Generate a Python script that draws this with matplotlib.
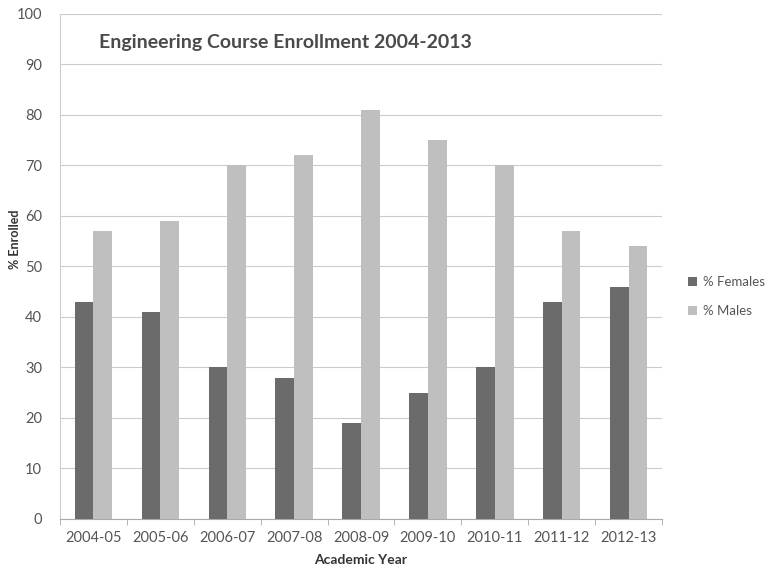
import numpy as np
import matplotlib.pyplot as plt

years = ["2004-05", "2005-06", "2006-07", "2007-08", "2008-09",
         "2009-10", "2010-11", "2011-12", "2012-13"]
females = [43, 41, 30, 28, 19, 25, 30, 43, 46]
males = [57, 59, 70, 72, 81, 75, 70, 57, 54]

plt.rcParams['font.family'] = ['Lato', 'DejaVu Sans']

fig = plt.figure(figsize=(7.69, 5.70), dpi=100)
ax = fig.add_axes([0.078, 0.0895, 0.783, 0.886])

x = np.arange(len(years))
w = 0.28
ax.bar(x - w / 2, females, w, color="#6b6b6b", label="% Females", zorder=3)
ax.bar(x + w / 2, males, w, color="#bfbfbf", label="% Males", zorder=3)

ax.set_xlim(-0.5, len(years) - 0.5)
ax.set_ylim(0, 100)
ax.set_yticks(range(0, 101, 10))
ax.set_xticks(x)
ax.set_xticklabels(years)
ax.set_xticks(np.arange(-0.5, len(years)), minor=True)
ax.tick_params(axis="x", which="major", length=0, labelsize=10.5, colors="#555555", pad=9)
ax.tick_params(axis="x", which="minor", length=4, color="#aaaaaa")
ax.tick_params(axis="y", length=0, labelsize=10.5, colors="#555555", pad=13)

# light horizontal grid like the original
ax.grid(axis="y", color="#cccccc", linewidth=0.8, zorder=0)
for s in ["top", "right"]:
    ax.spines[s].set_visible(False)
ax.spines["left"].set_color("#cccccc")
ax.spines["bottom"].set_color("#aaaaaa")

ax.text(0.064, 0.943, "Engineering Course Enrollment 2004-2013",
        transform=ax.transAxes, fontsize=14, fontweight="bold",
        color="#4a4a4a", va="center")

fig.text(0.019, 0.58, "% Enrolled", rotation=90, fontsize=9, fontweight="bold",
         color="#333333", ha="center", va="center")
ax.set_xlabel("Academic Year", fontsize=10, fontweight="bold", color="#333333", labelpad=6)

fig.legend(loc="center left", bbox_to_anchor=(0.895, 0.48), frameon=False,
           fontsize=9.5, labelcolor="#555555", handlelength=0.7, handleheight=0.7,
           handletextpad=0.4, labelspacing=1.3, borderaxespad=0, borderpad=0)

fig.savefig("out.png", dpi=100)
